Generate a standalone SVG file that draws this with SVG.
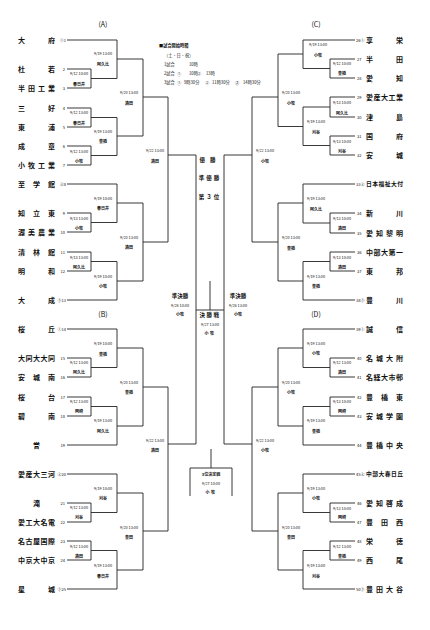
<svg xmlns="http://www.w3.org/2000/svg" width="430" height="630" viewBox="0 0 430 630">
<style>
text{font-family:"Noto Sans CJK JP","Noto Sans",sans-serif;fill:#111}
.ln{fill:none;stroke:#222;stroke-width:0.9}
.tm{font-size:7px;font-weight:bold}
.tms{font-size:5.8px;font-weight:bold}
.nm{font-size:4px}
.nl{font-size:4px;text-anchor:end}
.lb{font-size:3.8px;text-anchor:middle}
.vn{font-size:4px;font-weight:bold;text-anchor:middle}
.bk{font-size:7px;text-anchor:middle}
.ct{font-size:5.5px;font-weight:bold;text-anchor:middle}
.lg{font-size:4.2px}
</style>
<rect width="430" height="630" fill="#fff"/>
<g id="connectors" class="ln">
<path d="M67 40H117M67 69H91M67 88H91M67 108H91M67 127H91M67 146H91M67 165H91M67 184H117M67 213H91M67 232H91M67 252H91M67 271H91M67 300H117M91 69V88M91 78.5H117M91 108V127M91 117.5H117M91 146V165M91 155.5H117M91 213V232M91 222.5H117M91 252V271M91 261.5H117M117 40V78.5M117 59H143M117 117.5V155.5M117 136H143M117 184V222.5M117 203H143M117 261.5V300M117 281H143M143 59V136M143 97H168M143 203V281M143 242H168M168 97V242M168 155H196"/>
<path d="M67 329H117M67 358H91M67 377H91M67 397H91M67 416H91M67 445H117M67 474H117M67 503H91M67 522H91M67 541H91M67 560H91M67 589H117M91 358V377M91 367.5H117M91 397V416M91 406.5H117M91 503V522M91 512.5H117M91 541V560M91 550.5H117M117 329V367.5M117 348H143M117 406.5V445M117 426H143M117 474V512.5M117 493H143M117 550.5V589M117 570H143M143 348V426M143 387H168M143 493V570M143 531H168M168 387V531M168 444H196"/>
<path d="M196 155V444M224 155V444M196 310H224M210 281V310M211 449V468M190 496V468H232V496"/>
<path d="M303 40H355M330 59H355M330 78H355M330 97H355M330 117H355M330 136H355M330 155H355M303 184H355M330 213H355M330 233H355M330 252H355M330 271H355M303 300H355M330 59V78M303 68.5H330M330 97V117M303 107H330M330 136V155M303 145.5H330M330 213V233M303 223H330M330 252V271M303 261.5H330M303 40V68.5M278 54H303M303 107V145.5M278 126.5H303M303 184V223M278 203H303M303 261.5V300M278 281H303M278 54V126.5M252 97H278M278 203V281M252 242H278M252 97V242M224 155H252"/>
<path d="M303 329H355M330 358H355M330 377H355M330 397H355M330 416H355M303 445H355M303 474H355M330 503H355M330 522H355M330 541H355M330 560H355M303 589H355M330 358V377M303 367.5H330M330 397V416M303 406.5H330M330 503V522M303 512.5H330M330 541V560M303 550.5H330M303 329V367.5M278 348H303M303 406.5V445M278 426H303M303 474V512.5M278 493H303M303 550.5V589M278 570H303M278 348V426M252 387H278M278 493V570M252 531H278M252 387V531M224 444H252"/>
</g>
<g id="blocks">
<text class="bk" x="103" y="27">(A)</text>
<text class="bk" x="103" y="317">(B)</text>
<text class="bk" x="316" y="27">(C)</text>
<text class="bk" x="316" y="317">(D)</text>
</g>
<g id="legend" class="lg">
<text x="159" y="46.5" font-weight="bold">■試合開始時間</text>
<text x="164" y="56.5">（土・日・祝）</text>
<text x="164" y="65.5">1試合</text><text x="189" y="65.5">10時</text>
<text x="164" y="74.5">2試合</text><text x="177" y="74.5">①</text><text x="189" y="74.5">10時</text><text x="197" y="74.5">②</text><text x="206" y="74.5">13時</text>
<text x="164" y="84">3試合</text><text x="177" y="84">①</text><text x="184" y="84">9時30分</text><text x="205" y="84">②</text><text x="212" y="84">11時30分</text><text x="235" y="84">③</text><text x="243" y="84">14時30分</text>
</g>
<g id="teamsA">
<g id="t1"><text class="tm" x="18" y="42.5" textLength="37" lengthAdjust="spacing">大府</text><text class="nl" x="66" y="41.5">①1</text></g>
<g id="t2"><text class="tm" x="18" y="71.5" textLength="37" lengthAdjust="spacing">杜若</text><text class="nl" x="65" y="70.5">2</text></g>
<g id="t3"><text class="tm" x="18" y="90.5" textLength="37" lengthAdjust="spacing">半田工業</text><text class="nl" x="65" y="89.5">3</text></g>
<g id="t4"><text class="tm" x="18" y="110.5" textLength="37" lengthAdjust="spacing">三好</text><text class="nl" x="65" y="109.5">4</text></g>
<g id="t5"><text class="tm" x="18" y="129.5" textLength="37" lengthAdjust="spacing">東浦</text><text class="nl" x="65" y="128.5">5</text></g>
<g id="t6"><text class="tm" x="18" y="148.5" textLength="37" lengthAdjust="spacing">成章</text><text class="nl" x="65" y="147.5">6</text></g>
<g id="t7"><text class="tm" x="18" y="167.5" textLength="37" lengthAdjust="spacing">小牧工業</text><text class="nl" x="65" y="166.5">7</text></g>
<g id="t8"><text class="tm" x="18" y="186.5" textLength="37" lengthAdjust="spacing">至学館</text><text class="nl" x="66" y="185.5">②8</text></g>
<g id="t9"><text class="tm" x="18" y="215.5" textLength="37" lengthAdjust="spacing">知立東</text><text class="nl" x="65" y="214.5">9</text></g>
<g id="t10"><text class="tm" x="18" y="234.5" textLength="37" lengthAdjust="spacing">渥美農業</text><text class="nl" x="65" y="233.5">10</text></g>
<g id="t11"><text class="tm" x="18" y="254.5" textLength="37" lengthAdjust="spacing">清林館</text><text class="nl" x="65" y="253.5">11</text></g>
<g id="t12"><text class="tm" x="18" y="273.5" textLength="37" lengthAdjust="spacing">明和</text><text class="nl" x="65" y="272.5">12</text></g>
<g id="t13"><text class="tm" x="18" y="302.5" textLength="37" lengthAdjust="spacing">大成</text><text class="nl" x="66" y="301.5">③13</text></g>
</g>
<g id="teamsB">
<g id="t14"><text class="tm" x="18" y="331.5" textLength="37" lengthAdjust="spacing">桜丘</text><text class="nl" x="66" y="330.5">①14</text></g>
<g id="t15"><text class="tm" x="18" y="360.5" textLength="37" lengthAdjust="spacing">大同大大同</text><text class="nl" x="65" y="359.5">15</text></g>
<g id="t16"><text class="tm" x="18" y="379.5" textLength="37" lengthAdjust="spacing">安城南</text><text class="nl" x="65" y="378.5">16</text></g>
<g id="t17"><text class="tm" x="18" y="399.5" textLength="37" lengthAdjust="spacing">桜台</text><text class="nl" x="65" y="398.5">17</text></g>
<g id="t18"><text class="tm" x="18" y="418.5" textLength="37" lengthAdjust="spacing">碧南</text><text class="nl" x="65" y="417.5">18</text></g>
<g id="t19"><text class="tm" x="36.5" y="447.5" text-anchor="middle">誉</text><text class="nl" x="65" y="446.5">19</text></g>
<g id="t20"><text class="tm" x="18" y="476.5" textLength="37" lengthAdjust="spacing">愛産大三河</text><text class="nl" x="66" y="475.5">②20</text></g>
<g id="t21"><text class="tm" x="36.5" y="505.5" text-anchor="middle">滝</text><text class="nl" x="65" y="504.5">21</text></g>
<g id="t22"><text class="tm" x="18" y="524.5" textLength="37" lengthAdjust="spacing">愛工大名電</text><text class="nl" x="65" y="523.5">22</text></g>
<g id="t23"><text class="tm" x="18" y="543.5" textLength="37" lengthAdjust="spacing">名古屋国際</text><text class="nl" x="65" y="542.5">23</text></g>
<g id="t24"><text class="tm" x="18" y="562.5" textLength="37" lengthAdjust="spacing">中京大中京</text><text class="nl" x="65" y="561.5">24</text></g>
<g id="t25"><text class="tm" x="18" y="591.5" textLength="37" lengthAdjust="spacing">星城</text><text class="nl" x="66" y="590.5">③25</text></g>
</g>
<g id="teamsC">
<g id="t26"><text class="tm" x="366" y="42.5" textLength="37" lengthAdjust="spacing">享栄</text><text class="nm" x="356" y="41.5">26①</text></g>
<g id="t27"><text class="tm" x="366" y="61.5" textLength="37" lengthAdjust="spacing">半田</text><text class="nm" x="357" y="60.5">27</text></g>
<g id="t28"><text class="tm" x="366" y="80.5" textLength="37" lengthAdjust="spacing">愛知</text><text class="nm" x="357" y="79.5">28</text></g>
<g id="t29"><text class="tm" x="366" y="99.5" textLength="37" lengthAdjust="spacing">愛産大工業</text><text class="nm" x="357" y="98.5">29</text></g>
<g id="t30"><text class="tm" x="366" y="119.5" textLength="37" lengthAdjust="spacing">津島</text><text class="nm" x="357" y="118.5">30</text></g>
<g id="t31"><text class="tm" x="366" y="138.5" textLength="37" lengthAdjust="spacing">国府</text><text class="nm" x="357" y="137.5">31</text></g>
<g id="t32"><text class="tm" x="366" y="157.5" textLength="37" lengthAdjust="spacing">安城</text><text class="nm" x="357" y="156.5">32</text></g>
<g id="t33"><text class="tms" x="366" y="186" textLength="37" lengthAdjust="spacing">日本福祉大付</text><text class="nm" x="356" y="185.5">33②</text></g>
<g id="t34"><text class="tm" x="366" y="215.5" textLength="37" lengthAdjust="spacing">新川</text><text class="nm" x="357" y="214.5">34</text></g>
<g id="t35"><text class="tm" x="366" y="235.5" textLength="37" lengthAdjust="spacing">愛知黎明</text><text class="nm" x="357" y="234.5">35</text></g>
<g id="t36"><text class="tm" x="366" y="254.5" textLength="37" lengthAdjust="spacing">中部大第一</text><text class="nm" x="357" y="253.5">36</text></g>
<g id="t37"><text class="tm" x="366" y="273.5" textLength="37" lengthAdjust="spacing">東邦</text><text class="nm" x="357" y="272.5">37</text></g>
<g id="t38"><text class="tm" x="366" y="302.5" textLength="37" lengthAdjust="spacing">豊川</text><text class="nm" x="356" y="301.5">38③</text></g>
</g>
<g id="teamsD">
<g id="t39"><text class="tm" x="366" y="331.5" textLength="37" lengthAdjust="spacing">誠信</text><text class="nm" x="356" y="330.5">39①</text></g>
<g id="t40"><text class="tm" x="366" y="360.5" textLength="37" lengthAdjust="spacing">名城大附</text><text class="nm" x="357" y="359.5">40</text></g>
<g id="t41"><text class="tm" x="366" y="379.5" textLength="37" lengthAdjust="spacing">名経大市邨</text><text class="nm" x="357" y="378.5">41</text></g>
<g id="t42"><text class="tm" x="366" y="399.5" textLength="37" lengthAdjust="spacing">豊橋東</text><text class="nm" x="357" y="398.5">42</text></g>
<g id="t43"><text class="tm" x="366" y="418.5" textLength="37" lengthAdjust="spacing">安城学園</text><text class="nm" x="357" y="417.5">43</text></g>
<g id="t44"><text class="tm" x="366" y="447.5" textLength="37" lengthAdjust="spacing">豊橋中央</text><text class="nm" x="357" y="446.5">44</text></g>
<g id="t45"><text class="tms" x="366" y="476" textLength="37" lengthAdjust="spacing">中部大春日丘</text><text class="nm" x="356" y="475.5">45②</text></g>
<g id="t46"><text class="tm" x="366" y="505.5" textLength="37" lengthAdjust="spacing">愛知啓成</text><text class="nm" x="357" y="504.5">46</text></g>
<g id="t47"><text class="tm" x="366" y="524.5" textLength="37" lengthAdjust="spacing">豊田西</text><text class="nm" x="357" y="523.5">47</text></g>
<g id="t48"><text class="tm" x="366" y="543.5" textLength="37" lengthAdjust="spacing">栄徳</text><text class="nm" x="357" y="542.5">48</text></g>
<g id="t49"><text class="tm" x="366" y="562.5" textLength="37" lengthAdjust="spacing">西尾</text><text class="nm" x="357" y="561.5">49</text></g>
<g id="t50"><text class="tm" x="366" y="591.5" textLength="37" lengthAdjust="spacing">豊田大谷</text><text class="nm" x="356" y="590.5">50③</text></g>
</g>
<g id="labelsA">
<text class="lb" x="103" y="54.5">9/19 13:00</text><text class="vn" x="103" y="65.5">阿久比</text>
<text class="lb" x="79" y="74.5">9/12 10:00</text><text class="vn" x="79" y="85.5">春日井</text>
<text class="lb" x="79" y="113.5">9/12 13:00</text><text class="vn" x="79" y="124.5">春日井</text>
<text class="lb" x="103" y="132.5">9/19 13:00</text><text class="vn" x="103" y="142.5">豊橋</text>
<text class="lb" x="79" y="152.5">9/12 13:00</text><text class="vn" x="79" y="162.5">小牧</text>
<text class="lb" x="129" y="93.5">9/20 13:00</text><text class="vn" x="129" y="104.5">熱田</text>
<text class="lb" x="155" y="151.5">9/22 13:00</text><text class="vn" x="155" y="162.5">熱田</text>
<text class="lb" x="103" y="199.5">9/19 10:00</text><text class="vn" x="103" y="209.5">春日井</text>
<text class="lb" x="79" y="219.5">9/13 13:00</text><text class="vn" x="79" y="229.5">小牧</text>
<text class="lb" x="79" y="258.5">9/13 13:00</text><text class="vn" x="79" y="268.5">阿久比</text>
<text class="lb" x="103" y="277.5">9/19 10:00</text><text class="vn" x="103" y="287.5">小牧</text>
<text class="lb" x="129" y="238.5">9/20 13:00</text><text class="vn" x="129" y="248.5">熱田</text>
</g>
<g id="labelsB">
<text class="lb" x="103" y="344.5">9/19 10:00</text><text class="vn" x="103" y="355.5">豊橋</text>
<text class="lb" x="79" y="363.5">9/12 13:00</text><text class="vn" x="79" y="373.5">阿久比</text>
<text class="lb" x="129" y="383.5">9/20 13:00</text><text class="vn" x="129" y="393.5">豊橋</text>
<text class="lb" x="79" y="402.5">9/12 13:00</text><text class="vn" x="79" y="412.5">岡崎</text>
<text class="lb" x="103" y="421.5">9/19 13:00</text><text class="vn" x="103" y="432.5">阿久比</text>
<text class="lb" x="155" y="441.5">9/22 13:00</text><text class="vn" x="155" y="451.5">熱田</text>
<text class="lb" x="103" y="489.5">9/19 10:00</text><text class="vn" x="103" y="499.5">刈谷</text>
<text class="lb" x="79" y="508.5">9/12 13:00</text><text class="vn" x="79" y="518.5">刈谷</text>
<text class="lb" x="129" y="528.5">9/20 13:00</text><text class="vn" x="129" y="538.5">豊田</text>
<text class="lb" x="79" y="547.5">9/12 13:00</text><text class="vn" x="79" y="557.5">熱田</text>
<text class="lb" x="103" y="566.5">9/19 13:00</text><text class="vn" x="103" y="577.5">春日井</text>
</g>
<g id="labelsC">
<text class="lb" x="318" y="45.5">9/19 13:00</text><text class="vn" x="318" y="56.5">小牧</text>
<text class="lb" x="342" y="64.5">9/12 10:00</text><text class="vn" x="342" y="74.5">豊橋</text>
<text class="lb" x="291" y="93.5">9/20 13:00</text><text class="vn" x="291" y="104.5">小牧</text>
<text class="lb" x="342" y="103.5">9/13 10:00</text><text class="vn" x="342" y="114.5">阿久比</text>
<text class="lb" x="316" y="122.5">9/19 13:00</text><text class="vn" x="316" y="133.5">刈谷</text>
<text class="lb" x="342" y="142.5">9/13 10:00</text><text class="vn" x="342" y="152.5">刈谷</text>
<text class="lb" x="265" y="151.5">9/22 13:00</text><text class="vn" x="265" y="162.5">小牧</text>
<text class="lb" x="316" y="199.5">9/19 13:00</text><text class="vn" x="316" y="210.5">阿久比</text>
<text class="lb" x="342" y="219.5">9/13 10:00</text><text class="vn" x="342" y="229.5">熱田</text>
<text class="lb" x="291" y="238.5">9/20 13:00</text><text class="vn" x="291" y="249.5">豊橋</text>
<text class="lb" x="342" y="258.5">9/13 10:00</text><text class="vn" x="342" y="268.5">熱田</text>
<text class="lb" x="316" y="277.5">9/19 13:00</text><text class="vn" x="316" y="287.5">豊橋</text>
</g>
<g id="labelsD">
<text class="lb" x="316" y="344.5">9/19 13:00</text><text class="vn" x="316" y="354.5">小牧</text>
<text class="lb" x="342" y="363.5">9/12 13:00</text><text class="vn" x="342" y="373.5">熱田</text>
<text class="lb" x="291" y="383.5">9/20 13:00</text><text class="vn" x="291" y="393.5">小牧</text>
<text class="lb" x="342" y="402.5">9/13 10:00</text><text class="vn" x="342" y="412.5">岡崎</text>
<text class="lb" x="316" y="421.5">9/19 13:00</text><text class="vn" x="316" y="432.5">豊橋</text>
<text class="lb" x="265" y="441.5">9/22 13:00</text><text class="vn" x="265" y="451.5">小牧</text>
<text class="lb" x="316" y="489.5">9/19 13:00</text><text class="vn" x="316" y="499.5">小牧</text>
<text class="lb" x="342" y="509.5">9/13 10:00</text><text class="vn" x="342" y="518.5">岡崎</text>
<text class="lb" x="291" y="528.5">9/20 13:00</text><text class="vn" x="291" y="538.5">豊田</text>
<text class="lb" x="342" y="547.5">9/12 13:00</text><text class="vn" x="342" y="557.5">豊橋</text>
<text class="lb" x="316" y="566.5">9/19 13:00</text><text class="vn" x="316" y="577.5">刈谷</text>
</g>
<g id="center">
<text class="ct" x="210" y="162" letter-spacing="5">優勝</text>
<text class="ct" x="210" y="180" letter-spacing="2">準優勝</text>
<text class="ct" x="210" y="199" letter-spacing="2">第３位</text>
<text class="ct" x="180" y="298">準決勝</text>
<text class="lb" x="180" y="306.5">9/26 10:00</text>
<text class="vn" x="180" y="315.5">小牧</text>
<text class="ct" x="238" y="298">準決勝</text>
<text class="lb" x="238" y="306.5">9/26 13:00</text>
<text class="vn" x="238" y="315.5">小牧</text>
<text class="ct" x="210" y="317" letter-spacing="1.5">決勝戦</text>
<text class="lb" x="210" y="325.5">9/27 13:00</text>
<text class="vn" x="210" y="334.5" letter-spacing="1.5">小牧</text>
<text class="vn" x="211" y="475.5">3位決定戦</text>
<text class="lb" x="211" y="484.5">9/27 10:00</text>
<text class="vn" x="211" y="493.5" letter-spacing="1.5">小牧</text>
</g>
</svg>
